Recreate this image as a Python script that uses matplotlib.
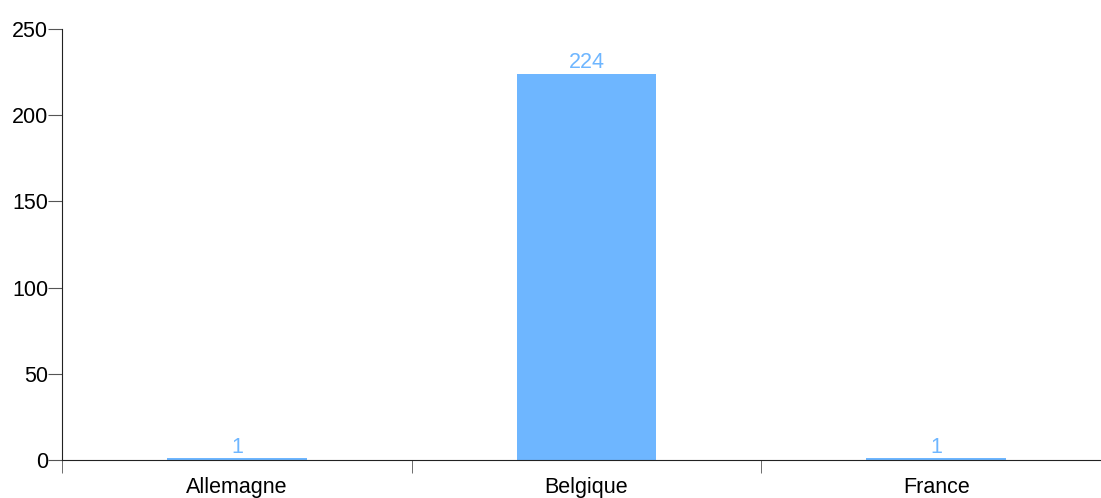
import numpy as np
import matplotlib
matplotlib.use('Agg')
import matplotlib.pyplot as plt

plt.rcParams['font.family'] = ['Liberation Sans', 'DejaVu Sans']

pays = ['Allemagne', 'Belgique', 'France']
nombre = [1, 224, 1]

fig = plt.figure(figsize=(11.01, 4.98), dpi=100)
ax = fig.add_axes([62/1101, 38/498, 1 - 62/1101, (460-29)/498])

x = np.arange(len(pays))
ax.bar(x, nombre, width=0.4, color='#6eb6ff', linewidth=0)
for xi, v in zip(x, nombre):
    ax.text(xi, v + 0.3, str(v), ha='center', va='bottom', color='#6eb6ff', fontsize=15.5)

ax.set_xlim(-0.5, 2.5 - 10/350)
ax.set_ylim(0, 250)
ax.set_yticks([0, 50, 100, 150, 200, 250])
ax.set_xticks(x)
ax.set_xticklabels(pays)
ax.set_xticks([-0.5, 0.5, 1.5], minor=True)
ax.tick_params(axis='x', which='major', length=0, pad=12.5, labelsize=15.5)
ax.tick_params(axis='x', which='minor', length=9.5, color='#555555')
ax.tick_params(axis='y', length=10, color='#555555', labelsize=15.5, pad=0)

for s in ['top', 'right']:
    ax.spines[s].set_visible(False)
ax.spines['left'].set_color('#222222')
ax.spines['bottom'].set_color('#222222')
ax.spines['left'].set_bounds(0, 250)

plt.savefig('out.png', dpi=100)
